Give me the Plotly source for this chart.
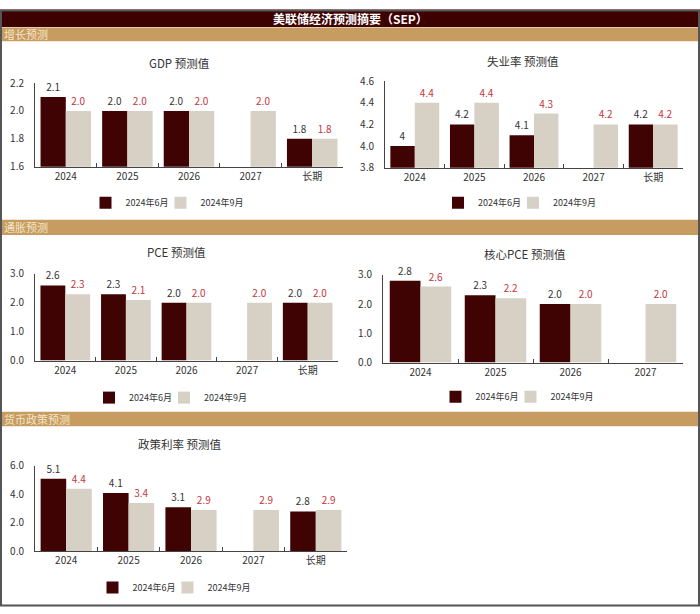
import plotly.graph_objects as go

FONT = "Noto Sans CJK SC, Noto Sans, sans-serif"
W, H = 700, 614

series_names = ["2024年6月", "2024年9月"]
cats5 = ["2024", "2025", "2026", "2027", "长期"]
cats4 = ["2024", "2025", "2026", "2027"]

gdp_jun = [2.1, 2.0, 2.0, None, 1.8]
gdp_sep = [2.0, 2.0, 2.0, 2.0, 1.8]

unemp_jun = [4.0, 4.2, 4.1, None, 4.2]
unemp_sep = [4.4, 4.4, 4.3, 4.2, 4.2]

pce_jun = [2.6, 2.3, 2.0, None, 2.0]
pce_sep = [2.3, 2.1, 2.0, 2.0, 2.0]

core_jun = [2.8, 2.3, 2.0, None]
core_sep = [2.6, 2.2, 2.0, 2.0]

rate_jun = [5.1, 4.1, 3.1, None, 2.8]
rate_sep = [4.4, 3.4, 2.9, 2.9, 2.9]

DARK = "#400303"
LIGHT = "#d7d1c5"
LBL_DARK = "#333333"
LBL_RED = "#c3363c"
TAN = "#c69c60"
TOPBAR = "#3d0101"
TXT = "#333333"


def px_x(p):
    return p / W


def px_y(p):
    return 1 - p / H


def labels(vals, fmt):
    return ["" if v is None else format(v, fmt) for v in vals]


# (key, title, cats, jun, sep, yrange, dtick, xdom px, ydom px, title pos, legend pos, jun fmt, clip)
panels = [
    ("1", "GDP 预测值", cats5, gdp_jun, gdp_sep, [1.6, 2.2], 0.2, (35, 343), (162, 76), (180, 55), (169.5, 199), ".1f", True),
    ("2", "失业率 预测值", cats5, unemp_jun, unemp_sep, [3.8, 4.6], 0.2, (385, 683), (163, 74), (523, 53), (522, 199), "g", True),
    ("3", "PCE 预测值", cats5, pce_jun, pce_sep, [0, 3], 1.0, (35, 338), (361, 272), (177, 250), (173, 399), ".1f", False),
    ("4", "核心PCE 预测值", cats4, core_jun, core_sep, [0, 3], 1.0, (383, 683), (363, 273), (525, 252), (519.5, 398), ".1f", False),
    ("5", "政策利率 预测值", cats5, rate_jun, rate_sep, [0, 6], 2.0, (35, 347), (557, 469), (180, 447), (176.5, 594), ".1f", False),
]

fig = go.Figure()
layout = dict(
    width=W, height=H,
    margin=dict(l=0, r=0, t=0, b=0),
    paper_bgcolor="white", plot_bgcolor="white",
    font=dict(family=FONT, size=10, color=TXT),
    barmode="group", bargap=0.18, bargroupgap=0,
    showlegend=True,
)
annotations = []
shapes = []

for key, title, cats, jun, sep, yr, dt, xd, yd, tpos, lpos, jfmt, clip in panels:
    xa = "x" if key == "1" else "x" + key
    ya = "y" if key == "1" else "y" + key
    lg = "legend" if key == "1" else "legend" + key
    fig.add_trace(go.Bar(
        x=cats, y=jun, name=series_names[0], marker_color=DARK,
        marker_line_width=0, xaxis=xa, yaxis=ya, legend=lg, legendwidth=30,
        text=labels(jun, jfmt), textposition="outside", cliponaxis=clip,
        textfont=dict(color=LBL_DARK, size=10, family=FONT),
    ))
    fig.add_trace(go.Bar(
        x=cats, y=sep, name=series_names[1], marker_color=LIGHT,
        marker_line_width=0, xaxis=xa, yaxis=ya, legend=lg, legendwidth=48,
        text=labels(sep, ".1f"), textposition="outside", cliponaxis=clip,
        textfont=dict(color=LBL_RED, size=10, family=FONT),
    ))
    xname = "xaxis" if key == "1" else "xaxis" + key
    yname = "yaxis" if key == "1" else "yaxis" + key
    layout[xname] = dict(
        domain=[px_x(xd[0]), px_x(xd[1])], anchor=ya,
        type="category", showline=True, linecolor="#444", linewidth=1,
        ticks="inside", tickson="boundaries", ticklen=4, tickcolor="#444",
        showgrid=False, zeroline=False, fixedrange=True,
        tickfont=dict(size=10, color=TXT, family=FONT),
    )
    layout[yname] = dict(
        domain=[px_y(yd[0]), px_y(yd[1])], anchor=xa,
        range=yr, dtick=dt, tick0=yr[0], tickformat=".1f",
        showline=True, linecolor="#444", linewidth=1,
        ticks="", ticklabelstandoff=8,
        showgrid=False, zeroline=False, fixedrange=True,
        tickfont=dict(size=10, color=TXT, family=FONT),
    )
    layout[lg] = dict(
        orientation="h", x=px_x(lpos[0]), y=px_y(lpos[1]),
        xanchor="center", yanchor="middle", bgcolor="rgba(0,0,0,0)",
        font=dict(size=9, color=TXT, family=FONT), itemwidth=30,
        itemclick=False, itemdoubleclick=False,
    )
    annotations.append(dict(
        text=title, x=px_x(tpos[0]), y=px_y(tpos[1]), xref="paper", yref="paper",
        showarrow=False, xanchor="center", yanchor="middle",
        font=dict(size=11.5, color=TXT, family=FONT),
    ))

# top title bar
shapes.append(dict(type="rect", xref="paper", yref="paper", x0=0, x1=1,
                   y0=px_y(18.5), y1=1, fillcolor=TOPBAR, line_width=0, layer="below"))
shapes.append(dict(type="line", xref="paper", yref="paper", x0=0, x1=1,
                   y0=px_y(0.5), y1=px_y(0.5), line=dict(color="#c99494", width=1), layer="below"))
annotations.append(dict(
    text="<b>美联储经济预测摘要（SEP）</b>", x=0.5, y=px_y(9.5), xref="paper", yref="paper",
    showarrow=False, xanchor="center", yanchor="middle",
    font=dict(size=12, color="white", family=FONT),
))

# section bars
sections = [("增长预测", 19, 33), ("通胀预测", 216.5, 232), ("货币政策预测", 413.5, 428.5)]
for name, t, b in sections:
    shapes.append(dict(type="rect", xref="paper", yref="paper", x0=px_x(2), x1=px_x(698),
                       y0=px_y(b), y1=px_y(t), fillcolor=TAN, line_width=0, layer="below"))
    annotations.append(dict(
        text=name, x=px_x(2), y=px_y((t + b) / 2), xref="paper", yref="paper",
        showarrow=False, xanchor="left", yanchor="middle",
        font=dict(size=11, color="#f4e6c9", family=FONT),
    ))

# outer frame
shapes.append(dict(type="rect", xref="paper", yref="paper", x0=px_x(1), x1=px_x(699),
                   y0=px_y(612.5), y1=px_y(1.5), line=dict(color="#555555", width=2),
                   fillcolor="rgba(0,0,0,0)", layer="above"))

layout["annotations"] = annotations
layout["shapes"] = shapes
fig.update_layout(**layout)

fig.write_html(
    "out.html",
    config={"displayModeBar": False},
    post_script=(
        "document.documentElement.style.margin='0';"
        "document.documentElement.style.overflow='hidden';"
        "document.body.style.margin='0';document.body.style.padding='0';"
        "document.body.style.overflow='hidden';"
    ),
)
